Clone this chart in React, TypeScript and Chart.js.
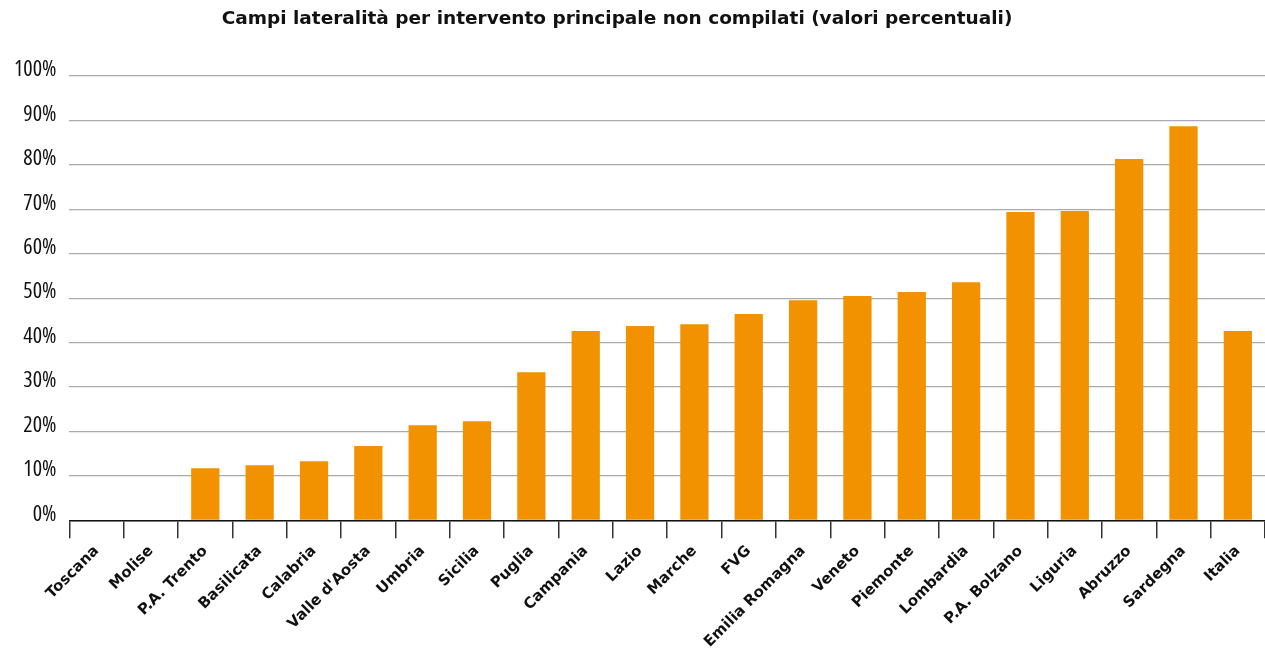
import React, { useEffect, useRef } from "react";
import { Chart, registerables } from "chart.js";

Chart.register(...registerables);

const TITLE = "Campi lateralità per intervento principale non compilati (valori percentuali)";

const REGIONS = [
  "Toscana", "Molise", "P.A. Trento", "Basilicata", "Calabria", "Valle d'Aosta",
  "Umbria", "Sicilia", "Puglia", "Campania", "Lazio", "Marche", "FVG",
  "Emilia Romagna", "Veneto", "Piemonte", "Lombardia", "P.A. Bolzano",
  "Liguria", "Abruzzo", "Sardegna", "Italia",
];

const VALUES = [
  0, 0, 11.7, 12.4, 13.3, 16.7, 21.4, 22.3, 33.3, 42.6, 43.7, 44.1, 46.4,
  49.5, 50.5, 51.4, 53.6, 69.4, 69.6, 81.3, 88.7, 42.6,
];

const Y_MIN = 0;
const Y_MAX = 100;
const Y_STEP = 10;

const titlePlugin = {
  id: "customTitle",
  afterDraw(chart: any) {
    const ctx = chart.ctx;
    ctx.save();
    ctx.font = "bold 18.5px 'DejaVu Sans', sans-serif";
    ctx.fillStyle = "#111";
    ctx.textAlign = "center";
    ctx.textBaseline = "middle";
    ctx.fillText(TITLE, 617, 19);
    ctx.restore();
  },
};

export default function App() {
  const ref = useRef<HTMLCanvasElement | null>(null);

  useEffect(() => {
    document.body.style.margin = "0";
    const canvas = ref.current;
    if (!canvas) return;
    const chart = new Chart(canvas, {
      type: "bar",
      data: {
        labels: REGIONS,
        datasets: [
          {
            data: VALUES,
            backgroundColor: "#F29200",
            borderWidth: 0,
            barPercentage: 0.52,
            categoryPercentage: 1,
          },
        ],
      },
      plugins: [titlePlugin],
      options: {
        animation: false,
        responsive: false,
        maintainAspectRatio: false,
        layout: { padding: { left: 1, right: 0, top: 76, bottom: 0 } },
        plugins: {
          legend: { display: false },
          tooltip: { enabled: false },
          title: { display: false },
        },
        scales: {
          x: {
            offset: true,
            grid: {
              offset: true,
              drawOnChartArea: false,
              drawTicks: true,
              tickLength: 18,
              color: "#333",
              lineWidth: 1.5,
            },
            border: { display: true, color: "#111", width: 1.5 },
            ticks: {
              color: "#111",
              font: { family: "'DejaVu Sans', sans-serif", size: 15, weight: "bold" },
              maxRotation: 45,
              minRotation: 45,
              autoSkip: false,
              padding: 4,
            },
          },
          y: {
            min: Y_MIN,
            max: Y_MAX,
            grid: {
              color: "#aaa",
              lineWidth: 1.2,
              drawTicks: false,
            },
            border: { display: false },
            ticks: {
              stepSize: Y_STEP,
              color: "#111",
              padding: 13,
              labelOffset: -6,
              font: {
                family: "'Open Sans', sans-serif",
                size: 22,
                weight: "condensed" as any,
              },
              callback: (v: any) => v + "%",
            },
          },
        },
      },
    });
    return () => chart.destroy();
  }, []);

  return (
    <div style={{ width: 1265, height: 655 }}>
      <canvas ref={ref} width={1265} height={655} style={{ display: "block" }} />
    </div>
  );
}
